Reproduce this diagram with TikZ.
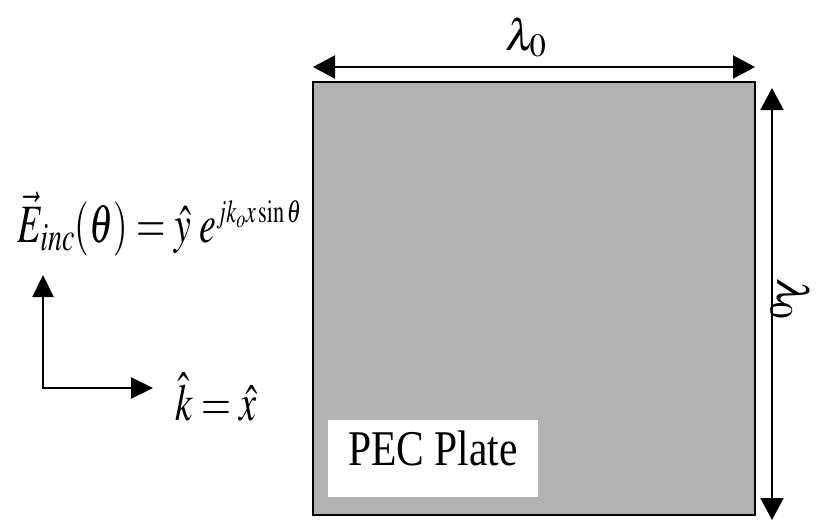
\documentclass[tikz,border=0pt]{standalone}
\usepackage{mathptmx}
\usepackage{fontspec}
\setmainfont{Liberation Serif}
\usetikzlibrary{arrows.meta}
\tikzset{
  dim/.style={line width=2.2pt,{Triangle[width=23pt,length=22pt]}-{Triangle[width=23pt,length=22pt]}},
  axis/.style={line width=2.2pt,-{Triangle[width=21pt,length=22pt]}},
  lbl/.style={inner sep=0pt,font=\fontsize{44}{50}\selectfont},
}
\begin{document}
\begin{tikzpicture}[x=1pt,y=-1pt]
\useasboundingbox[fill=white] (0,0) rectangle (819,522);
% plate
\node[draw=black,line width=2pt,fill=black!30,minimum width=442pt,minimum height=433pt,inner sep=0pt] (plate) at (534,298.5) {};
\node[fill=white,minimum width=210pt,minimum height=77pt,inner sep=0pt] (pecbox) at (433,458.5) {};
\node[lbl,anchor=base] (pec) at (433,465) {\fontsize{50}{56}\selectfont\scalebox{0.83}[1]{PEC Plate}};
% top dimension
\coordinate (tl) at (313,67);
\coordinate (tr) at (755,67);
\draw[dim] (tl) -- (tr);
\node[lbl,anchor=base] (lamtop) at (526,50) {$\lambda_0$};
% right dimension
\coordinate (rt) at (772,88);
\coordinate (rb) at (772,520);
\draw[dim] (rt) -- (rb);
\node[lbl,rotate=-90,anchor=base] (lamright) at (777,299) {$\lambda_0$};
% equation
\node[lbl,anchor=base west] (eq) at (17,242) {\fontsize{54}{60}\selectfont\scalebox{0.7}[1]{$\vec{E}_{inc}(\theta)=\hat{y}\;e^{\scalebox{0.8}{$\scriptstyle jk_ox\sin\theta$}}$}};
% axes
\coordinate (o) at (43,388);
\coordinate (up) at (43,275);
\coordinate (rightend) at (153,388);
\draw[axis] (o) ++(0,1.1) -- (up);
\draw[axis] (o) ++(-1.1,0) -- (rightend);
\node[lbl,anchor=base west] (k) at (175,420) {\fontsize{52}{58}\selectfont\scalebox{0.74}[1]{$\hat{k}=\hat{x}$}};
\end{tikzpicture}
\end{document}
